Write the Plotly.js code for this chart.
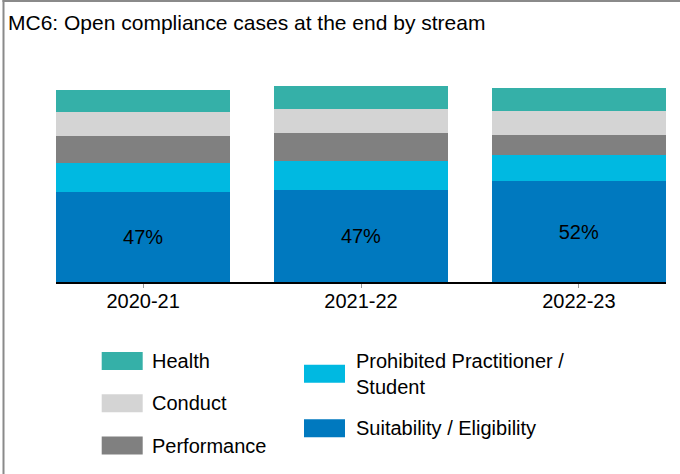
<!DOCTYPE html>
<html>
<head>
<meta charset="utf-8">
<script src="https://cdn.plot.ly/plotly-3.0.1.min.js"></script>
<style>
  html, body { margin: 0; padding: 0; background: #ffffff; }
  #chart { width: 680px; height: 474px; }
</style>
</head>
<body>
<div id="chart"></div>
<script>
// Financial years shown on the x axis
const years = ["2020-21", "2021-22", "2022-23"];

// Open compliance cases at year end, by stream
const suitability = [90, 92, 101];
const prohibited  = [29, 29, 26];
const performance = [27, 28, 20];
const conduct     = [24, 24, 24];
const health      = [22, 23, 23];

const streamNames = [
  "Suitability / Eligibility",
  "Prohibited Practitioner / Student",
  "Performance",
  "Conduct",
  "Health"
];
const streamColors = ["#0079BF", "#00B9E1", "#808080", "#D4D4D4", "#35B0A8"];
const streamValues = [suitability, prohibited, performance, conduct, health];

// Suitability share of all open cases, printed inside the bottom segment
const totals = years.map((_, i) => streamValues.reduce((s, arr) => s + arr[i], 0));
const shareLabels = suitability.map((v, i) => Math.round(100 * v / totals[i]) + "%");

const FONT = '"Liberation Sans", Arial, sans-serif';

const traces = streamValues.map((vals, k) => ({
  type: "bar",
  name: streamNames[k],
  x: years,
  y: vals,
  marker: { color: streamColors[k], line: { width: 0 } },
  text: k === 0 ? shareLabels : undefined,
  textposition: k === 0 ? "inside" : "none",
  insidetextanchor: "middle",
  textangle: 0,
  constraintext: "none",
  textfont: { family: FONT, size: 20, color: "#000000" },
  hoverinfo: "name+y",
  showlegend: false
}));

// Plot area geometry (pixels) used to place the hand-built legend
const L = 56, W = 610, T = 82, H = 200;
const px = x => (x - L) / W;
const py = y => (T + H - y) / H;

// Legend layout: two columns of swatch + label
const legendItems = [
  { idx: 4, col: 0, cy: 361,   label: "Health" },
  { idx: 3, col: 0, cy: 403.3, label: "Conduct" },
  { idx: 2, col: 0, cy: 445.5, label: "Performance" },
  { idx: 1, col: 1, cy: 373.8, label: "Prohibited Practitioner /<br>Student" },
  { idx: 0, col: 1, cy: 428.3, label: "Suitability / Eligibility" }
];
const colSwatchX = [101.7, 304];
const colTextX = [150, 354];
const SW = 41, SH = 18;

const shapes = [];
const annotations = [];
legendItems.forEach(it => {
  const x0 = colSwatchX[it.col];
  shapes.push({
    type: "rect", xref: "paper", yref: "paper",
    x0: px(x0), x1: px(x0 + SW),
    y0: py(it.cy + SH / 2), y1: py(it.cy - SH / 2),
    fillcolor: streamColors[it.idx], line: { width: 0 }
  });
  annotations.push({
    xref: "paper", yref: "paper",
    x: px(colTextX[it.col]), y: py(it.cy),
    xanchor: "left", yanchor: "middle", align: "left",
    text: it.label, showarrow: false,
    font: { family: FONT, size: 20, color: "#000000" }
  });
});

// Frame lines along the top and left edges of the figure
shapes.push({
  type: "line", xref: "paper", yref: "paper",
  x0: px(3.5), x1: px(3.5), y0: py(0), y1: py(474),
  line: { color: "#8a8a8a", width: 2 }
});
shapes.push({
  type: "line", xref: "paper", yref: "paper",
  x0: px(2.5), x1: px(680), y0: py(1), y1: py(1),
  line: { color: "#8a8a8a", width: 2 }
});

const layout = {
  width: 680,
  height: 474,
  margin: { l: L, r: 680 - L - W, t: T, b: 474 - T - H, pad: 0 },
  paper_bgcolor: "#ffffff",
  plot_bgcolor: "#ffffff",
  barmode: "stack",
  bargap: 0.2,
  showlegend: false,
  font: { family: FONT, size: 20, color: "#000000" },
  title: {
    text: "MC6: Open compliance cases at the end by stream",
    font: { family: FONT, size: 21, color: "#000000" },
    xref: "container", yref: "container",
    x: 8 / 680, xanchor: "left",
    y: 1 - 23 / 474, yanchor: "middle"
  },
  xaxis: {
    type: "category",
    range: [-0.4, 2.4],
    showline: true,
    linecolor: "#000000",
    linewidth: 2,
    ticks: "outside",
    ticklen: 4,
    tickwidth: 1,
    tickcolor: "#9a9a9a",
    ticklabelstandoff: -4,
    tickfont: { family: FONT, size: 20, color: "#000000" },
    showgrid: false,
    zeroline: false,
    fixedrange: true
  },
  yaxis: {
    range: [0, 200],
    visible: false,
    showgrid: false,
    zeroline: false,
    fixedrange: true
  },
  shapes: shapes,
  annotations: annotations
};

Plotly.newPlot("chart", traces, layout, { displayModeBar: false, staticPlot: true });
</script>
</body>
</html>
